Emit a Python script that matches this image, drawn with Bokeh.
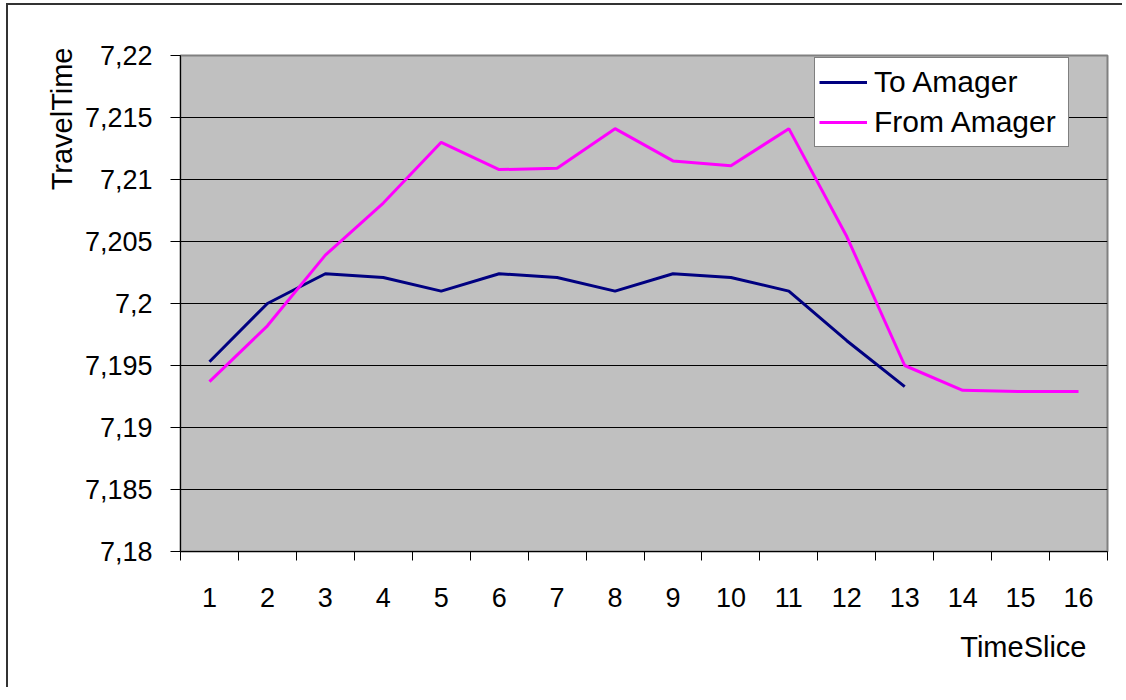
from bokeh.plotting import figure
from bokeh.models import (Range1d, FixedTicker, Legend, LegendItem, Title, ColumnDataSource)
from bokeh.embed import file_html
from bokeh.resources import INLINE

# ---- data ----
timeslices = list(range(1, 17))
x_labels = [str(t) for t in timeslices]
to_amager = [7.1953, 7.2000, 7.2024, 7.2021, 7.2010, 7.2024, 7.2021, 7.2010,
             7.2024, 7.2021, 7.2010, 7.1970, 7.1933]
from_amager = [7.1937, 7.1982, 7.2039, 7.2081, 7.2130, 7.2108, 7.2109, 7.2141,
               7.2115, 7.2111, 7.2141, 7.2054, 7.1950, 7.1930, 7.1929, 7.1929]
y_ticks = [7.18, 7.185, 7.19, 7.195, 7.2, 7.205, 7.21, 7.215, 7.22]
y_labels = ["7,18", "7,185", "7,19", "7,195", "7,2", "7,205", "7,21", "7,215", "7,22"]
series_names = ["To Amager", "From Amager"]
x_title = "TimeSlice"
y_title = "TravelTime"

FONT = "Liberation Sans"
W, H = 1116, 684
BL, BR, BT, BB = 172, 17, 50, 138
X0, X1 = 0.5, 16.5
Y0, Y1 = 7.18, 7.22

p = figure(width=W, height=H, output_backend="svg", toolbar_location=None,
           x_range=Range1d(X0, X1), y_range=Range1d(Y0, Y1),
           min_border_left=BL, min_border_right=BR, min_border_top=BT,
           min_border_bottom=BB)
p.styles = {"border-left": "2px solid #333333", "border-top": "2px solid #333333",
            "margin-left": "6px", "margin-top": "3px"}
p.background_fill_color = "#C0C0C0"
p.border_fill_color = "white"
p.outline_line_color = "#808080"
p.outline_line_width = 2

# x axis: labels at centres, ticks at band boundaries
p.xaxis.ticker = FixedTicker(ticks=timeslices, minor_ticks=[t - 0.5 for t in timeslices] + [16.5])
p.xaxis.major_label_overrides = {t: lab for t, lab in zip(timeslices, x_labels)}
p.xaxis.major_tick_line_color = None
p.xaxis.major_tick_in = 0
p.xaxis.major_tick_out = 0
p.xaxis.minor_tick_line_color = "black"
p.xaxis.minor_tick_in = 0
p.xaxis.minor_tick_out = 9
p.xaxis.axis_line_color = "black"
p.xaxis.major_label_text_font = FONT
p.xaxis.major_label_text_font_size = "27px"
p.xaxis.major_label_text_color = "black"
p.xaxis.major_label_standoff = 27

# y axis
p.yaxis.ticker = FixedTicker(ticks=y_ticks, minor_ticks=[])
p.yaxis.major_label_overrides = {t: lab for t, lab in zip(y_ticks, y_labels)}
p.yaxis.major_tick_in = 0
p.yaxis.major_tick_out = 10
p.yaxis.major_tick_line_color = "black"
p.yaxis.axis_line_color = "black"
p.yaxis.major_label_text_font = FONT
p.yaxis.major_label_text_font_size = "27px"
p.yaxis.major_label_text_color = "black"
p.yaxis.major_label_standoff = 18

p.xgrid.grid_line_color = None
p.ygrid.grid_line_color = "black"
p.ygrid.grid_line_width = 1

src_to = ColumnDataSource(dict(x=timeslices[:len(to_amager)], y=to_amager))
src_from = ColumnDataSource(dict(x=timeslices[:len(from_amager)], y=from_amager))
r_to = p.line("x", "y", source=src_to, line_color="#000080", line_width=3)
r_from = p.line("x", "y", source=src_from, line_color="#FF00FF", line_width=3)

legend = Legend(items=[LegendItem(label=series_names[0], renderers=[r_to]),
                       LegendItem(label=series_names[1], renderers=[r_from])],
                location=(634, 404), orientation="vertical",
                label_text_font=FONT, label_text_font_size="30px",
                label_text_color="black", glyph_width=48, glyph_height=40,
                label_height=40, label_width=190, label_standoff=7,
                padding=4, spacing=0, margin=0,
                border_line_color="black", border_line_width=1,
                background_fill_color="white", background_fill_alpha=1.0)
p.add_layout(legend, "center")

# axis titles as side titles
p.add_layout(Title(text=y_title, align="right", offset=-8, standoff=8,
                   text_font=FONT, text_font_size="29px", text_font_style="normal",
                   text_color="black"), "left")
p.add_layout(Title(text=x_title, align="right", offset=21, standoff=38,
                   text_font=FONT, text_font_size="29px", text_font_style="normal",
                   text_color="black"), "below")

open("out.html", "w").write(file_html(p, INLINE))
